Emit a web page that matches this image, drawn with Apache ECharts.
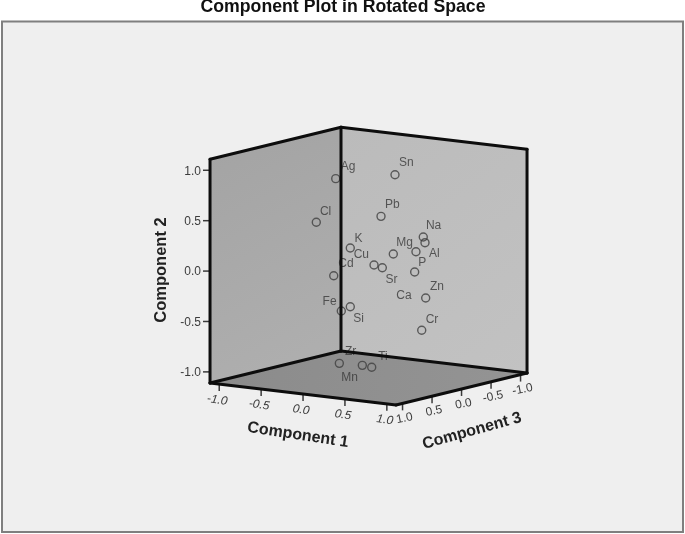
<!DOCTYPE html>
<html>
<head>
<meta charset="utf-8">
<style>
  html, body { margin: 0; padding: 0; background: #fff; }
  #chart { width: 685px; height: 534px; }
</style>
<script src="https://cdn.jsdelivr.net/npm/echarts@6/dist/echarts.min.js"></script>
</head>
<body>
<div id="chart"></div>
<script>
// loadings
const elements = ['Ag', 'Sn', 'Cl', 'Pb', 'Na', 'Al', 'K', 'Mg', 'P', 'Ca', 'Cu', 'Sr', 'Cd', 'Zn', 'Cr', 'Fe', 'Si', 'Zr', 'Mn', 'Ti']
const component1 = [-0.321, 0.175, -0.412, 0.149, 0.442, 0.533, -0.077, 0.366, 0.566, 0.621, 0.136, 0.235, -0.204, 0.823, 0.846, 0.027, 0.064, 0.074, 0.278, 0.39]
const component2 = [0.85, 0.895, 0.437, 0.508, 0.289, 0.256, 0.2, 0.17, 0.198, 0.017, 0.038, 0.021, -0.073, -0.207, -0.511, -0.372, -0.34, -0.872, -0.886, -0.894]
const component3 = [0.1, -0.2, 0.3, 0, -0.3, -0.2, 0.2, 0.1, 0, 0.1, 0.1, 0.1, 0.3, 0.2, 0.3, 0.5, 0.4, 0.6, 0.5, 0.5]
const tickValues = [-1, -0.5, 0, 0.5, 1]
const tickLabels = ['-1.0', '-0.5', '0.0', '0.5', '1.0']

// cube bounds and the oblique projection of the SPSS view
const LIM = 1.11
function project(c1, c2, c3) {
  const a = c1 + LIM
  const b = c3 + LIM
  const h = c2 + LIM
  return [341 + a * 83.8 - b * 59, 351 + a * 9.9 + b * 14.4 - h * 100.8]
}

// label position around each circle
const labelOffsets = {
  Ag: [13, -11], Sn: [12, -11], Cl: [10, -10], Pb: [12, -11], Na: [11, -11],
  Al: [10, 12], K: [9, -9], Mg: [12, -11], P: [7, 12], Ca: [-10, 24],
  Cu: [-12, -10], Sr: [10, 13], Cd: [13, -11], Zn: [12, -11], Cr: [11, -10],
  Fe: [-11, -9], Si: [9, 13], Zr: [12, -11], Mn: [-12, 13], Ti: [12, -10]
}

const walls = [
  { // floor
    corners: [[-LIM, -LIM, -LIM], [LIM, -LIM, -LIM], [LIM, -LIM, LIM], [-LIM, -LIM, LIM]],
    colors: ['#8b8b8b', '#949494']
  },
  { // left wall
    corners: [[-LIM, -LIM, -LIM], [-LIM, LIM, -LIM], [-LIM, LIM, LIM], [-LIM, -LIM, LIM]],
    colors: ['#a3a3a3', '#b0b0b0']
  },
  { // right wall
    corners: [[-LIM, -LIM, -LIM], [-LIM, LIM, -LIM], [LIM, LIM, -LIM], [LIM, -LIM, -LIM]],
    colors: ['#bbbbbb', '#c2c2c2']
  }
]

const edges = [
  [[-LIM, LIM, LIM], [-LIM, LIM, -LIM]],
  [[-LIM, LIM, -LIM], [LIM, LIM, -LIM]],
  [[-LIM, LIM, -LIM], [-LIM, -LIM, -LIM]],
  [[-LIM, LIM, LIM], [-LIM, -LIM, LIM]],
  [[LIM, LIM, -LIM], [LIM, -LIM, -LIM]],
  [[-LIM, -LIM, LIM], [-LIM, -LIM, -LIM]],
  [[-LIM, -LIM, -LIM], [LIM, -LIM, -LIM]],
  [[LIM, -LIM, -LIM], [LIM, -LIM, LIM]],
  [[LIM, -LIM, LIM], [-LIM, -LIM, LIM]]
]

// one entry per axis: where the tick sits, tick direction, label shift and slant
const axes3d = [
  { at: (t) => [-LIM, t, LIM], tick: [-7, 0], label: [-2, 1], align: 'right', rotation: 0, style: '' },
  { at: (t) => [t, -LIM, LIM], tick: [0, 7], label: [-2, 16], align: 'center', rotation: -0.15, style: 'italic ' },
  { at: (t) => [LIM, -LIM, t], tick: [0, 7], label: [2, 15], align: 'center', rotation: 0.2, style: '' }
]
const tickItems = []
axes3d.forEach((axis) => {
  tickValues.forEach((t, i) => tickItems.push({ axis, value: t, text: tickLabels[i] }))
})

const FONT = '"Liberation Sans", Arial, sans-serif'
const SYMBOL = 8
const chart = echarts.init(document.getElementById('chart'))

const option = {
  animation: false,
  backgroundColor: '#ffffff',
  grid: { left: 0, right: 0, top: 0, bottom: 0 },
  xAxis: { type: 'value', min: 0, max: 685, show: false },
  yAxis: { type: 'value', min: 0, max: 534, inverse: true, show: false },
  graphic: [
    {
      type: 'rect',
      shape: { x: 2, y: 21.5, width: 681, height: 510.5 },
      style: { fill: '#efefef', stroke: '#7f7f7f', lineWidth: 2 },
      z: -1
    },
    {
      type: 'text',
      x: 343,
      y: 7,
      style: { text: 'Component Plot in Rotated Space', font: 'bold 17.7px ' + FONT, fill: '#111111', align: 'center', verticalAlign: 'middle' },
      z: 5
    },
    {
      type: 'text',
      x: 161,
      y: 270,
      rotation: Math.PI / 2,
      style: { text: 'Component 2', font: 'bold 16.5px ' + FONT, fill: '#222222', align: 'center', verticalAlign: 'middle' },
      z: 5
    },
    {
      type: 'text',
      x: 298,
      y: 435,
      rotation: -0.15,
      style: { text: 'Component 1', font: 'bold 16px ' + FONT, fill: '#222222', align: 'center', verticalAlign: 'middle' },
      z: 5
    },
    {
      type: 'text',
      x: 472,
      y: 431,
      rotation: 0.27,
      style: { text: 'Component 3', font: 'bold 16px ' + FONT, fill: '#222222', align: 'center', verticalAlign: 'middle' },
      z: 5
    }
  ],
  series: [
    {
      type: 'custom',
      silent: true,
      clip: false,
      z: 1,
      data: walls.map((w, i) => i),
      renderItem(params, api) {
        const wall = walls[params.dataIndex]
        const pts = wall.corners.map((c) => api.coord(project(c[0], c[1], c[2])))
        return {
          type: 'polygon',
          shape: { points: pts },
          style: {
            fill: new echarts.graphic.LinearGradient(0, 0, 1, 1, [
              { offset: 0, color: wall.colors[0] },
              { offset: 1, color: wall.colors[1] }
            ])
          }
        }
      }
    },
    {
      // ticks and tick labels of the three axes
      type: 'custom',
      silent: true,
      clip: false,
      z: 2,
      data: tickItems.map((t, i) => i),
      renderItem(params, api) {
        const item = tickItems[params.dataIndex]
        const c = item.axis.at(item.value)
        const p = api.coord(project(c[0], c[1], c[2]))
        const end = [p[0] + item.axis.tick[0], p[1] + item.axis.tick[1]]
        return {
          type: 'group',
          children: [
            {
              type: 'line',
              shape: { x1: p[0], y1: p[1], x2: end[0], y2: end[1] },
              style: { stroke: '#3a3a3a', lineWidth: 1.5 }
            },
            {
              type: 'text',
              x: end[0] + item.axis.label[0],
              y: p[1] + item.axis.label[1],
              rotation: item.axis.rotation,
              style: {
                text: item.text,
                font: item.axis.style + '12px ' + FONT,
                fill: '#3c3c3c',
                align: item.axis.align,
                verticalAlign: 'middle'
              }
            }
          ]
        }
      }
    },
    {
      name: 'Loadings',
      type: 'scatter',
      z: 3,
      symbol: 'circle',
      symbolSize: SYMBOL,
      itemStyle: { color: 'rgba(0,0,0,0)', borderColor: '#3f3f3f', borderWidth: 1.4 },
      data: elements.map((name, i) => ({
        name,
        value: project(component1[i], component2[i], component3[i]),
        label: { position: [labelOffsets[name][0] + SYMBOL / 2, labelOffsets[name][1] + SYMBOL / 2] }
      })),
      label: {
        show: true,
        formatter: '{b}',
        fontFamily: FONT,
        fontSize: 12,
        color: '#383838',
        align: 'center',
        verticalAlign: 'middle'
      },
      labelLayout: { hideOverlap: false }
    },
    {
      // cube frame on top of points, as in the original
      type: 'custom',
      silent: true,
      clip: false,
      z: 4,
      data: edges.map((e, i) => i),
      renderItem(params, api) {
        const e = edges[params.dataIndex]
        const a = api.coord(project(e[0][0], e[0][1], e[0][2]))
        const b = api.coord(project(e[1][0], e[1][1], e[1][2]))
        return {
          type: 'line',
          shape: { x1: a[0], y1: a[1], x2: b[0], y2: b[1] },
          style: { stroke: '#0d0d0d', lineWidth: 3, lineCap: 'round' }
        }
      }
    }
  ]
}

chart.setOption(option)
</script>
</body>
</html>
